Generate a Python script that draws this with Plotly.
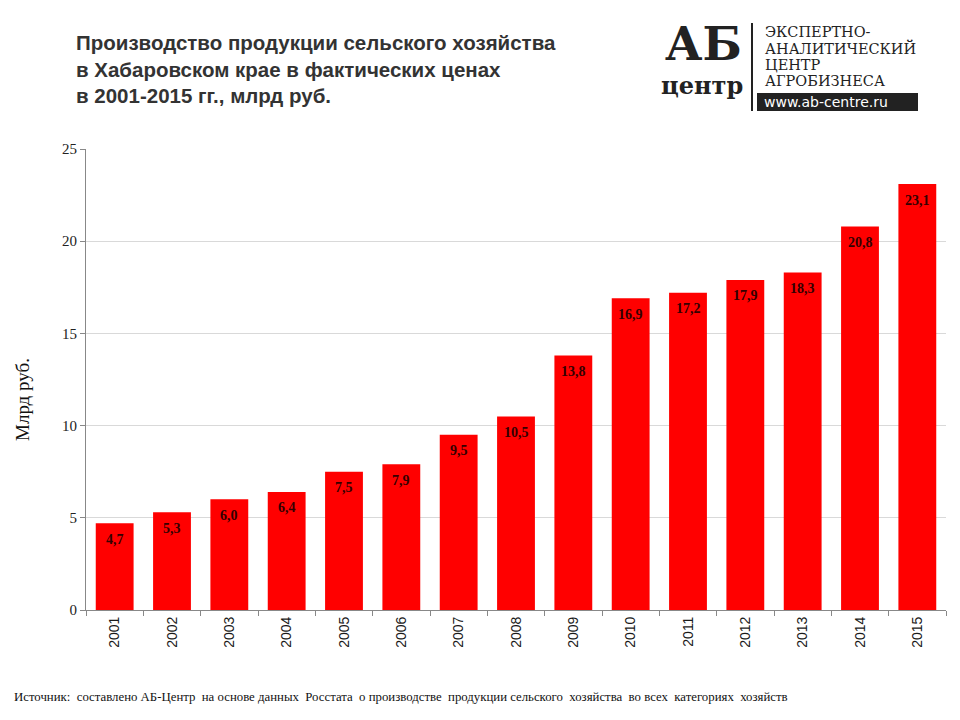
import plotly.graph_objects as go

# Data
years = [str(y) for y in range(2001, 2016)]
values = [4.7, 5.3, 6.0, 6.4, 7.5, 7.9, 9.5, 10.5, 13.8, 16.9, 17.2, 17.9, 18.3, 20.8, 23.1]
labels = [f"{v:.1f}".replace(".", ",") for v in values]

# page body has an 8px margin, so the figure is drawn 8px in from the corner
OFF = 8
W, H = 960 - OFF, 720 - OFF
L, R, T, B = 86 - OFF, 14, 149 - OFF, 110
PW, PH = W - L - R, H - T - B


def px(x, y):
    # screen pixel position -> paper coords
    return (x - OFF - L) / PW, (H - B - (y - OFF)) / PH


fig = go.Figure()
fig.add_trace(go.Bar(
    x=years, y=values,
    marker_color="#ff0000", marker_line_width=0,
    width=0.66,
))

fig.update_layout(
    width=W, height=H,
    margin=dict(l=L, r=R, t=T, b=B, autoexpand=False),
    paper_bgcolor="white", plot_bgcolor="white",
    showlegend=False,
    xaxis=dict(
        type="category", automargin=False, range=[-0.5, len(years) - 0.5],
        tickangle=-90, tickfont=dict(family="Liberation Sans", size=14, color="#1a1a1a"),
        ticks="outside", tickson="boundaries", ticklen=5, tickcolor="#888",
        showline=True, linecolor="#888", showgrid=False,
    ),
    yaxis=dict(
        automargin=False,
        range=[0, 25], dtick=5,
        tickfont=dict(family="Liberation Serif", size=15, color="#222"),
        ticks="outside", ticklen=5, tickcolor="#888",
        showline=True, linecolor="#888",
        gridcolor="#d9d9d9", gridwidth=1, zeroline=False,
    ),
)

anns = []
# value labels inside the bars (category axis -> use the category index)
for i, (v, lab) in enumerate(zip(values, labels)):
    anns.append(dict(
        x=i, y=v, xref="x", yref="y", yanchor="middle", yshift=-16,
        text=f"<b>{lab}</b>", showarrow=False,
        font=dict(family="Liberation Serif", size=14, color="#330000"),
    ))
# Title
tx, ty = px(74, 29)
anns.append(dict(
    x=tx, y=ty, xref="paper", yref="paper", xanchor="left", yanchor="top", align="left",
    text="<b>Производство продукции сельского хозяйства<br>в Хабаровском крае в фактических ценах<br>в 2001-2015 гг., млрд руб.</b>",
    font=dict(family="Liberation Sans", size=20.5, color="#333"), showarrow=False,
))
# y axis title
ax, ay = px(22, 400)
anns.append(dict(
    x=ax, y=ay, xref="paper", yref="paper", xanchor="center", yanchor="middle", textangle=-90,
    text="Млрд руб.", font=dict(family="Liberation Serif", size=19, color="#111"), showarrow=False,
))
# Source
sx, sy = px(12, 697)
anns.append(dict(
    x=sx, y=sy, xref="paper", yref="paper", xanchor="left", yanchor="middle",
    text="Источник:  составлено АБ-Центр  на основе данных  Росстата  о производстве  продукции сельского  хозяйства  во всех  категориях  хозяйств",
    font=dict(family="Liberation Serif", size=12.8, color="#111"), showarrow=False,
))
# Logo
lx, ly = px(703, 44)
anns.append(dict(x=lx, y=ly, xref="paper", yref="paper", xanchor="center", yanchor="middle",
                 text="<b>АБ</b>", font=dict(family="DejaVu Serif", size=46, color="#222"), showarrow=False))
lx, ly = px(702, 85)
anns.append(dict(x=lx, y=ly, xref="paper", yref="paper", xanchor="center", yanchor="middle",
                 text="<b>центр</b>", font=dict(family="DejaVu Serif", size=24, color="#222"), showarrow=False))
for i, t in enumerate(["ЭКСПЕРТНО-", "АНАЛИТИЧЕСКИЙ", "ЦЕНТР", "АГРОБИЗНЕСА"]):
    lx, ly = px(763, 32 + i * 16.3)
    anns.append(dict(x=lx, y=ly, xref="paper", yref="paper", xanchor="left", yanchor="middle",
                     text=t, font=dict(family="DejaVu Serif", size=14.5, color="#222"), showarrow=False))
lx, ly = px(762, 102)
anns.append(dict(x=lx, y=ly, xref="paper", yref="paper", xanchor="left", yanchor="middle",
                 text="www.ab-centre.ru", font=dict(family="DejaVu Sans", size=14, color="white"), showarrow=False))
fig.update_layout(annotations=anns)

x0, y0 = px(752, 23)
x1, y1 = px(752, 111)
x2, y2 = px(757, 93)
x3, y3 = px(918, 111)
fig.update_layout(shapes=[
    dict(type="line", xref="paper", yref="paper", x0=x0, y0=y0, x1=x1, y1=y1, line=dict(color="#222", width=2)),
    dict(type="rect", xref="paper", yref="paper", x0=x2, y0=y2, x1=x3, y1=y3, fillcolor="#222", line_width=0, layer="below"),
])

fig.write_html("out.html")
